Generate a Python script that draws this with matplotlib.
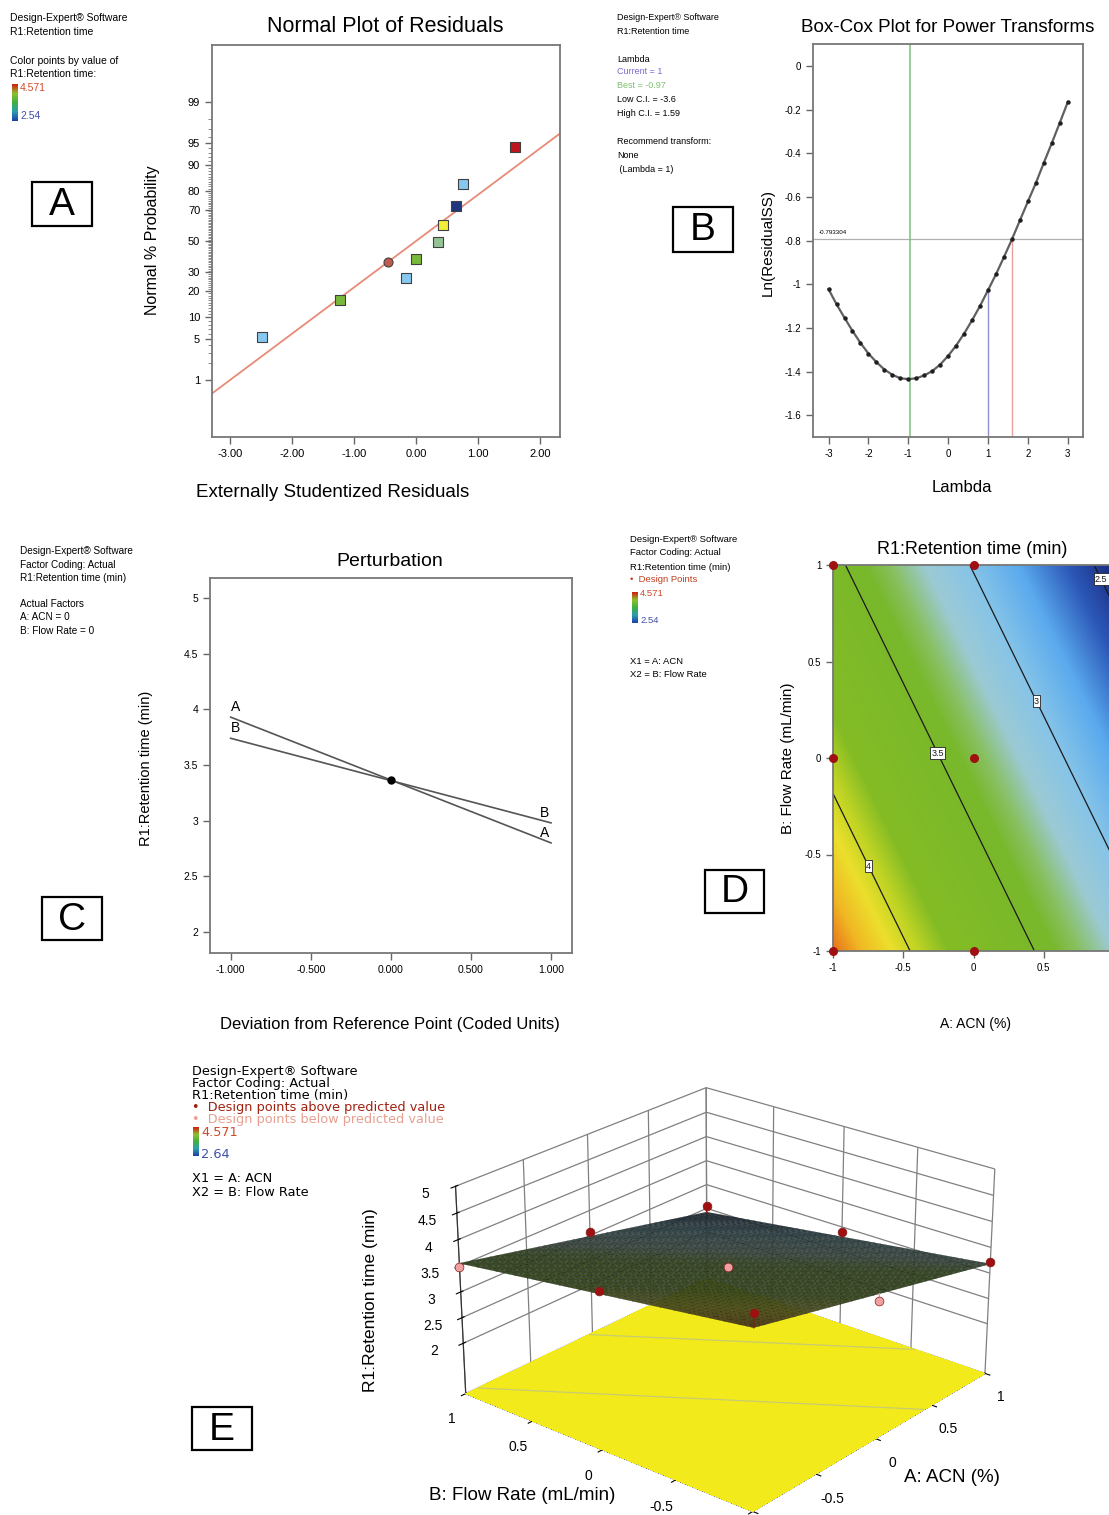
import numpy as np
import matplotlib
matplotlib.use("Agg")
import matplotlib.pyplot as plt
from matplotlib.colors import LinearSegmentedColormap, Normalize
from matplotlib.patches import Rectangle
from statistics import NormalDist

W, H = 1109, 1515
ARIAL = ['Liberation Sans', 'DejaVu Sans']
NARROW = ['Liberation Sans Narrow', 'Liberation Sans', 'DejaVu Sans']
WIDE = ['DejaVu Sans']
plt.rcParams['font.family'] = ARIAL
plt.rcParams['axes.unicode_minus'] = False

###############################################################################
# data
###############################################################################

# A - normal plot of residuals
resid = [-2.49, -1.23, -0.45, -0.16, 0.00, 0.36, 0.43, 0.64, 0.75, 1.59]
resid_prob = [5.4, 16.0, 36.0, 27.0, 38.0, 49.3, 60.6, 72.0, 83.0, 94.3]
resid_color = ['#86c8f0', '#7ab83a', '#c05a50', '#86c8f0', '#7ab83a',
               '#94c496', '#f2ee3a', '#1f3580', '#86c8f0', '#c0141c']
resid_marker = ['s', 's', 'o', 's', 's', 's', 's', 's', 's', 's']
fit_slope, fit_icpt = 0.778, 0.0
prob_ticks = [1, 5, 10, 20, 30, 50, 70, 80, 90, 95, 99]

# B - Box-Cox
lam = [-3.0, -2.8, -2.6, -2.4, -2.2, -2.0, -1.8, -1.6, -1.4, -1.2, -1.0,
       -0.8, -0.6, -0.4, -0.2, 0.0, 0.2, 0.4, 0.6, 0.8, 1.0,
       1.2, 1.4, 1.6, 1.8, 2.0, 2.2, 2.4, 2.6, 2.8, 3.0]
ln_ss = [-1.023, -1.092, -1.154, -1.214, -1.269, -1.318, -1.357, -1.391, -1.415, -1.431, -1.435,
         -1.431, -1.418, -1.398, -1.368, -1.328, -1.281, -1.226, -1.165, -1.099, -1.027,
         -0.954, -0.875, -0.794, -0.707, -0.621, -0.536, -0.443, -0.353, -0.260, -0.165]
lam_current, lam_best, ci_low, ci_high = 1.0, -0.97, -3.6, 1.59
ss_cut = -0.793304

# C - perturbation
dev = [-1.0, 1.0]
pert_A = [3.93, 2.80]
pert_B = [3.74, 2.98]
ref_value = 3.365

# D / E - design points and response surface
design_A = [-1, 0, 1, -1, 0, 1, -1, 0, 1]
design_B = [-1, -1, -1, 0, 0, 0, 1, 1, 1]
design_R = [4.571, 3.62, 3.22, 3.98, 3.30, 2.90, 3.48, 3.08, 2.54]
contour_levels = [2.5, 3.0, 3.5, 4.0]

# linear model taken from the perturbation lines
b0 = ref_value
bA = (pert_A[1] - pert_A[0]) / 2
bB = (pert_B[1] - pert_B[0]) / 2

###############################################################################
# helpers
###############################################################################

fig = plt.figure(figsize=(W / 100, H / 100), dpi=100)


def box(l, t, r, b):
    return [l / W, 1 - b / H, (r - l) / W, (b - t) / H]


def ptext(x, y, s, **kw):
    kw.setdefault('va', 'center')
    return fig.text(x / W, 1 - y / H, s, **kw)


def letter_box(l, t, r, b, s):
    fig.add_artist(Rectangle((l / W, 1 - b / H), (r - l) / W, (b - t) / H,
                             transform=fig.transFigure, fill=False, lw=1.6, ec='k'))
    ptext((l + r) / 2, (t + b) / 2 + 1, s, ha='center', fontsize=28, family=ARIAL)


legend_cmap = LinearSegmentedColormap.from_list('leg', ['#2040a8', '#2aa0b0', '#40b040', '#90c030', '#d02010'])


def legend_bar(x, t, b):
    ax = fig.add_axes(box(x, t, x + 6, b))
    ax.imshow(np.linspace(0, 1, 50)[:, None], aspect='auto', cmap=legend_cmap, origin='lower')
    ax.axis('off')


def style_axes(ax, fs=7, fam=NARROW):
    for sp in ax.spines.values():
        sp.set_color('#777')
        sp.set_linewidth(1.3)
    ax.tick_params(direction='out', color='#666', labelsize=fs, length=5, width=1)
    for lab in ax.get_xticklabels() + ax.get_yticklabels():
        lab.set_family(fam)


###############################################################################
# A - Normal plot of residuals
###############################################################################

nd = NormalDist()
axA = fig.add_axes(box(212, 45, 560, 437))
zlim = 3.29
xs = np.array([-3.29, 2.32])
axA.plot(xs, fit_icpt + fit_slope * xs, color='#e88a78', lw=1.3, zorder=1)
for x, p, c, m in zip(resid, resid_prob, resid_color, resid_marker):
    axA.scatter(x, nd.inv_cdf(p / 100), marker=m, s=42, color=c, edgecolors='#404040',
                linewidths=0.8, zorder=3)
axA.set_xlim(-3.29, 2.32)
axA.set_ylim(-zlim, zlim)
axA.set_xticks([-3, -2, -1, 0, 1, 2])
axA.set_xticklabels(['%.2f' % v for v in [-3, -2, -1, 0, 1, 2]])
axA.set_yticks([nd.inv_cdf(p / 100) for p in prob_ticks])
axA.set_yticklabels([str(p) for p in prob_ticks])
axA.set_yticks([nd.inv_cdf(p / 100) for p in range(1, 100) if p not in prob_ticks], minor=True)
style_axes(axA, fs=8)
axA.tick_params(which='minor', direction='out', length=3, color='#777')
ptext(385, 27, 'Normal Plot of Residuals', ha='center', fontsize=15.5, family=NARROW)
ptext(333, 493, 'Externally Studentized Residuals', ha='center', fontsize=13.5, family=NARROW)
ptext(152, 240, 'Normal % Probability', ha='center', rotation=90, fontsize=11.5, family=NARROW)

ptext(10, 18, 'Design-Expert® Software', fontsize=7.5, family=NARROW)
ptext(10, 32, 'R1:Retention time', fontsize=7.5, family=NARROW)
ptext(10, 61, 'Color points by value of', fontsize=7.5, family=NARROW)
ptext(10, 74, 'R1:Retention time:', fontsize=7.5, family=NARROW)
legend_bar(12, 84, 121)
ptext(20, 88, '4.571', fontsize=7.5, family=NARROW, color='#d04a28')
ptext(20, 116, '2.54', fontsize=7.5, family=NARROW, color='#4050a8')
letter_box(32, 182, 92, 226, 'A')

###############################################################################
# B - Box-Cox
###############################################################################

axB = fig.add_axes(box(813, 44, 1083, 437))
ymin = -1.70
axB.axhline(ss_cut, color='#b0b0b0', lw=0.9, zorder=1)
axB.axvline(lam_best, color='#7cc07c', lw=1.1, zorder=1)
axB.vlines(lam_current, ymin, np.interp(lam_current, lam, ln_ss), color='#9090d0', lw=1.0, zorder=1)
axB.vlines(ci_high, ymin, ss_cut, color='#e8a0a0', lw=1.0, zorder=1)
axB.plot(lam, ln_ss, color='#606060', lw=1.6, zorder=2)
axB.plot(lam, ln_ss, ls='none', marker='o', ms=2.2, color='#202020', zorder=3)
axB.text(-3.25, ss_cut + 0.02, '%.6f' % ss_cut, fontsize=4.5, family=NARROW, va='bottom')
axB.set_xlim(-3.39, 3.38)
axB.set_ylim(ymin, 0.10)
axB.set_xticks([-3, -2, -1, 0, 1, 2, 3])
axB.set_yticks([0, -0.2, -0.4, -0.6, -0.8, -1, -1.2, -1.4, -1.6])
axB.set_yticklabels(['0', '-0.2', '-0.4', '-0.6', '-0.8', '-1', '-1.2', '-1.4', '-1.6'])
style_axes(axB, fs=7)
ptext(948, 28, 'Box-Cox Plot for Power Transforms', ha='center', fontsize=13.5, family=NARROW)
ptext(962, 488, 'Lambda', ha='center', fontsize=12, family=NARROW)
ptext(768, 242, 'Ln(ResidualSS)', ha='center', rotation=90, fontsize=11, family=NARROW)

bl = [('Design-Expert® Software', 17, 'k'), ('R1:Retention time', 31, 'k'),
      ('Lambda', 59, 'k'), ('Current = 1', 72, '#7a6ad0'), ('Best = -0.97', 86, '#80c070'),
      ('Low C.I. = -3.6', 100, 'k'), ('High C.I. = 1.59', 114, 'k'),
      ('Recommend transform:', 142, 'k'), ('None', 156, 'k'), (' (Lambda = 1)', 170, 'k')]
for s, y, c in bl:
    ptext(617, y, s, fontsize=6.5, family=NARROW, color=c)
letter_box(673, 207, 733, 252, 'B')

###############################################################################
# C - Perturbation
###############################################################################

axC = fig.add_axes(box(210, 578, 572, 953))
axC.plot(dev, pert_A, color='#555', lw=1.2)
axC.plot(dev, pert_B, color='#555', lw=1.2)
axC.plot(0, ref_value, 'o', color='k', ms=5)
axC.text(dev[0], pert_A[0] + 0.03, 'A', fontsize=10, va='bottom', ha='left')
axC.text(dev[0], pert_B[0] + 0.03, 'B', fontsize=10, va='bottom', ha='left')
axC.text(dev[1] - 0.01, pert_A[1] + 0.03, 'A', fontsize=10, va='bottom', ha='right')
axC.text(dev[1] - 0.01, pert_B[1] + 0.03, 'B', fontsize=10, va='bottom', ha='right')
axC.set_xlim(-1.129, 1.131)
axC.set_ylim(1.811, 5.18)
axC.set_xticks([-1, -0.5, 0, 0.5, 1])
axC.set_xticklabels(['%.3f' % v for v in [-1, -0.5, 0, 0.5, 1]])
axC.set_yticks([2, 2.5, 3, 3.5, 4, 4.5, 5])
axC.set_yticklabels(['2', '2.5', '3', '3.5', '4', '4.5', '5'])
style_axes(axC, fs=7.5)
ptext(390, 561, 'Perturbation', ha='center', fontsize=14)
ptext(390, 1025, 'Deviation from Reference Point (Coded Units)', ha='center', fontsize=12, family=NARROW)
ptext(146, 768, 'R1:Retention time (min)', ha='center', rotation=90, fontsize=10.5)

for s, y in [('Design-Expert® Software', 551), ('Factor Coding: Actual', 565),
             ('R1:Retention time (min)', 578), ('Actual Factors', 604),
             ('A: ACN = 0', 617), ('B: Flow Rate = 0', 631)]:
    ptext(20, y, s, fontsize=7.2)
letter_box(42, 897, 102, 940, 'C')

###############################################################################
# D - contour plot
###############################################################################

stops = [(2.42, '#1a2a7e'), (2.6, '#2c58b8'), (2.8, '#5aaaee'), (3.0, '#86c4e8'),
         (3.18, '#9ccad4'), (3.32, '#88c060'), (3.42, '#78b82c'), (3.85, '#84bc24'),
         (3.97, '#c0d424'), (4.08, '#ecdf2c'), (4.2, '#f0b824'), (4.31, '#e8761a')]
vlo, vhi = stops[0][0], stops[-1][0]
surf_cmap = LinearSegmentedColormap.from_list(
    'de', [((v - vlo) / (vhi - vlo), c) for v, c in stops])
norm = Normalize(vlo, vhi)

g = np.linspace(-1, 1, 201)
Ag, Bg = np.meshgrid(g, g)
Rg = b0 + bA * Ag + bB * Bg

axD = fig.add_axes(box(833, 565, 1114, 951))
axD.imshow(Rg, extent=(-1, 1, -1, 1), origin='lower', cmap=surf_cmap, norm=norm,
           aspect='auto', interpolation='bilinear')
cs = axD.contour(Ag, Bg, Rg, levels=contour_levels, colors='#1a1a1a', linewidths=0.9)
labs = axD.clabel(cs, contour_levels, fmt={2.5: '2.5', 3.0: '3', 3.5: '3.5', 4.0: '4'},
                  fontsize=6.5, inline=False,
                  manual=[(0.92, 0.93), (0.49, 0.31), (-0.24, 0.03), (-0.72, -0.55)])
for t in labs:
    t.set_rotation(0)
    t.set_family(NARROW)
    t.set_bbox(dict(facecolor='white', edgecolor='#222', pad=1.0, lw=0.6))
axD.scatter(design_A, design_B, s=30, color='#a01010', zorder=5, clip_on=False)
axD.set_xlim(-1, 1)
axD.set_ylim(-1, 1)
axD.set_xticks([-1, -0.5, 0, 0.5])
axD.set_xticklabels(['-1', '-0.5', '0', '0.5'])
axD.set_yticks([-1, -0.5, 0, 0.5, 1])
axD.set_yticklabels(['-1', '-0.5', '0', '0.5', '1'])
style_axes(axD, fs=7)
ptext(972, 550, 'R1:Retention time (min)', ha='center', fontsize=13, family=NARROW)
ptext(975, 1024, 'A: ACN (%)', ha='center', fontsize=10, family=NARROW)
ptext(788, 758, 'B: Flow Rate (mL/min)', ha='center', rotation=90, fontsize=11, family=NARROW)

for s, y, c in [('Design-Expert® Software', 540, 'k'), ('Factor Coding: Actual', 553, 'k'),
                ('R1:Retention time (min)', 567, 'k'), ('•  Design Points', 580, '#c04020'),
                ('X1 = A: ACN', 661, 'k'), ('X2 = B: Flow Rate', 675, 'k')]:
    ptext(630, y, s, fontsize=6.8, family=NARROW, color=c)
legend_bar(632, 592, 623)
ptext(640, 594, '4.571', fontsize=6.8, family=NARROW, color='#d04a28')
ptext(640, 621, '2.54', fontsize=6.8, family=NARROW, color='#4050a8')
letter_box(705, 870, 764, 913, 'D')

###############################################################################
# E - 3D surface
###############################################################################

zfloor = 1.0
g3 = np.linspace(-1, 1, 45)
A3, B3 = np.meshgrid(g3, g3)
R3 = b0 + bA * A3 + bB * B3
fc = surf_cmap(norm(R3))
fc[..., :3] = fc[..., :3] * 0.22 + np.array([0.12, 0.14, 0.10])

ax3 = fig.add_axes(box(300, 1010, 1140, 1570), projection='3d', computed_zorder=False)
ax3.patch.set_alpha(0)
ax3.set_proj_type('persp', focal_length=0.8)
ax3.view_init(elev=24, azim=-140)
ax3.contourf(A3, B3, R3, zdir='z', offset=zfloor, levels=[1, 6], colors=['#f3ea1c'], zorder=1)
ax3.contour(A3, B3, R3, zdir='z', offset=zfloor, levels=[3.0, 3.5], colors=['#c8cc70'],
            linewidths=0.9, zorder=1)
ax3.plot_surface(A3, B3, R3, facecolors=fc, rstride=1, cstride=1, shade=False,
                 edgecolor='#101010', linewidth=0.15, zorder=2)
for a, b, r in zip(design_A, design_B, design_R):
    pred = b0 + bA * a + bB * b
    col = '#a01010' if r > pred else '#f0a0a0'
    ax3.plot([a, a], [b, b], [pred, r], color=col, lw=1.0, zorder=3)
    ax3.scatter([a], [b], [r], s=40, color=col, edgecolors='#802020', linewidths=0.5,
                depthshade=False, zorder=4)
ax3.set_xlim(-1, 1)
ax3.set_ylim(-1, 1)
ax3.set_zlim(zfloor, 5)
ax3.set_xticks([-1, -0.5, 0, 0.5, 1])
ax3.set_xticklabels(['-1', '-0.5', '0', '0.5', '1'])
ax3.set_yticks([-1, -0.5, 0, 0.5, 1])
ax3.set_yticklabels(['-1', '-0.5', '0', '0.5', '1'])
ax3.set_zticks([2, 2.5, 3, 3.5, 4, 4.5, 5])
ax3.set_zticklabels(['2', '2.5', '3', '3.5', '4', '4.5', '5'])
ax3.tick_params(labelsize=10)
for axis in (ax3.xaxis, ax3.yaxis, ax3.zaxis):
    axis.set_pane_color((1, 1, 1, 0))
    axis._axinfo['grid']['color'] = '#808080'
    axis._axinfo['grid']['linewidth'] = 0.9
    axis.line.set_color('#303030')
ax3.set_box_aspect((1, 1, 0.6))
ptext(522, 1496, 'B: Flow Rate (mL/min)', ha='center', fontsize=13.5)
ptext(952, 1478, 'A: ACN (%)', ha='center', fontsize=13.5)
ptext(370, 1300, 'R1:Retention time (min)', ha='center', rotation=90, fontsize=12.5, family=NARROW)

for s, y, c in [('Design-Expert® Software', 1071, 'k'), ('Factor Coding: Actual', 1083, 'k'),
                ('R1:Retention time (min)', 1096, 'k'),
                ('•  Design points above predicted value', 1108, '#a02010'),
                ('•  Design points below predicted value', 1120, '#e8a090'),
                ('X1 = A: ACN', 1179, 'k'), ('X2 = B: Flow Rate', 1192, 'k')]:
    ptext(192, y, s, fontsize=9.3, family=WIDE, color=c)
legend_bar(193, 1127, 1156)
ptext(201, 1133, '4.571', fontsize=9.3, family=WIDE, color='#d04a28')
ptext(201, 1155, '2.64', fontsize=9.3, family=WIDE, color='#4050a8')
letter_box(192, 1407, 252, 1450, 'E')

fig.savefig('out.png', dpi=100)
